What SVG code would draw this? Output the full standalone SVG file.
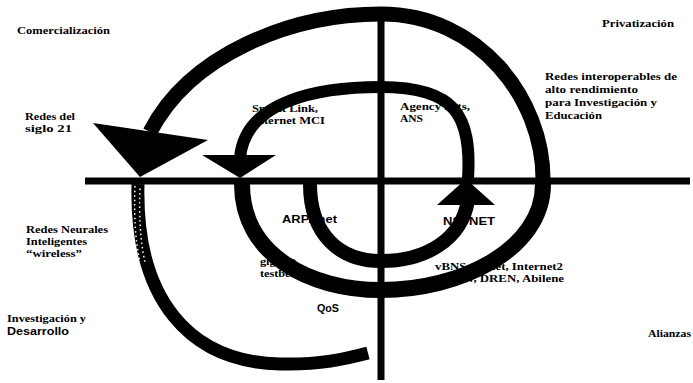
<svg xmlns="http://www.w3.org/2000/svg" width="693" height="383" viewBox="0 0 693 383">
<style>
.s{font-family:"Liberation Serif","Times New Roman",serif;font-weight:bold;font-size:11px;fill:#000}
.a{font-family:"Liberation Sans",Arial,sans-serif;font-weight:bold;font-size:10.5px;fill:#000}
.arc{fill:none;stroke:#000;stroke-linecap:butt}
.ax{stroke:#000;fill:none}
.head{fill:#000}
.tex{fill:none;stroke:#fff;stroke-width:1.5;stroke-dasharray:1.5 3}
</style>
<rect width="693" height="383" fill="#fff"/>
<g id="labels">
<g id="comercializacion"><text class="s" x="17" y="34" textLength="93" lengthAdjust="spacingAndGlyphs">Comercialización</text></g>
<g id="privatizacion"><text class="s" x="602" y="27" textLength="72" lengthAdjust="spacingAndGlyphs">Privatización</text></g>
<g id="redes-interoperables">
<text class="s" x="545" y="80" textLength="132" lengthAdjust="spacingAndGlyphs">Redes interoperables de</text>
<text class="s" x="545" y="93" textLength="93" lengthAdjust="spacingAndGlyphs">alto rendimiento</text>
<text class="s" x="545" y="106" textLength="112" lengthAdjust="spacingAndGlyphs">para Investigación y</text>
<text class="s" x="545" y="119" textLength="57" lengthAdjust="spacingAndGlyphs">Educación</text>
</g>
<g id="redes-siglo21">
<text class="s" x="25" y="120" textLength="50" lengthAdjust="spacingAndGlyphs">Redes del</text>
<text class="s" x="25" y="132" textLength="47" lengthAdjust="spacingAndGlyphs">siglo 21</text>
</g>
<g id="redes-neurales">
<text class="s" x="26" y="233" textLength="82" lengthAdjust="spacingAndGlyphs">Redes Neurales</text>
<text class="s" x="26" y="245" textLength="61" lengthAdjust="spacingAndGlyphs">Inteligentes</text>
<text class="s" x="26" y="257" textLength="56" lengthAdjust="spacingAndGlyphs">“wireless”</text>
</g>
<g id="investigacion">
<text class="s" x="7" y="322" textLength="79" lengthAdjust="spacingAndGlyphs">Investigación y</text>
<text class="a" x="7" y="335" textLength="62" lengthAdjust="spacingAndGlyphs">Desarrollo</text>
</g>
<g id="alianzas"><text class="s" x="648" y="337" textLength="43" lengthAdjust="spacingAndGlyphs">Alianzas</text></g>
<g id="sprint">
<text class="s" x="252" y="112" textLength="66" lengthAdjust="spacingAndGlyphs">Sprint Link,</text>
<text class="s" x="252" y="124" textLength="73" lengthAdjust="spacingAndGlyphs">Internet MCI</text>
</g>
<g id="agency">
<text class="s" x="400" y="110" textLength="70" lengthAdjust="spacingAndGlyphs">Agency nets,</text>
<text class="s" x="400" y="122" textLength="23" lengthAdjust="spacingAndGlyphs">ANS</text>
</g>
<g id="arpanet"><text class="a" x="282" y="223" textLength="55" lengthAdjust="spacingAndGlyphs">ARPAnet</text></g>
<g id="nsfnet"><text class="a" x="443" y="225" textLength="52" lengthAdjust="spacingAndGlyphs">NSFNET</text></g>
<g id="gigabit">
<text class="s" x="260" y="265" textLength="36" lengthAdjust="spacingAndGlyphs">gigabit</text>
<text class="s" x="260" y="277" textLength="42" lengthAdjust="spacingAndGlyphs">testbeds</text>
</g>
<g id="vbns">
<text class="s" x="435" y="270" textLength="128" lengthAdjust="spacingAndGlyphs">vBNS, ESnet, Internet2</text>
<text class="s" x="437" y="282" textLength="127" lengthAdjust="spacingAndGlyphs">NREN, DREN, Abilene</text>
</g>
<g id="qos"><text class="a" x="317" y="312" textLength="22" lengthAdjust="spacingAndGlyphs">QoS</text></g>
</g>
<g id="axes">
<line class="ax" x1="85" y1="181" x2="690" y2="181" stroke-width="7"/>
<line class="ax" x1="381" y1="8" x2="381" y2="380" stroke-width="7"/>
</g>
<g id="connectors">
<path class="arc" stroke-width="14" d="M310,184 C310,235 340,261 381,261 C425,261 462,240 468,200"/>
<polygon class="head" points="437,205 495,205 466,179"/>
<path class="arc" stroke-width="12" d="M468,179 C472,115 455,87 381,87 C320,87 245,100 240,158"/>
<polygon class="head" points="202,155 276,155 240,178"/>
<path class="arc" stroke-width="16" d="M242,184 C242,255 310,290 381,290 C460,290 543,250 543,184"/>
<path class="arc" stroke-width="15" d="M543,179 C543,100 480,14 381,14 C290,14 190,55 150,132"/>
<polygon class="head" points="93,123 208,140 140,177"/>
<path class="arc" stroke-width="13" d="M138,184 C135,300 190,362 280,364 C320,365 345,359 368,353"/>
<path class="tex" d="M135,186 C134,215 135,240 140,262"/>
<path class="tex" d="M140,186 C139,215 140,240 145,262" stroke-dashoffset="2"/>
</g>
</svg>
